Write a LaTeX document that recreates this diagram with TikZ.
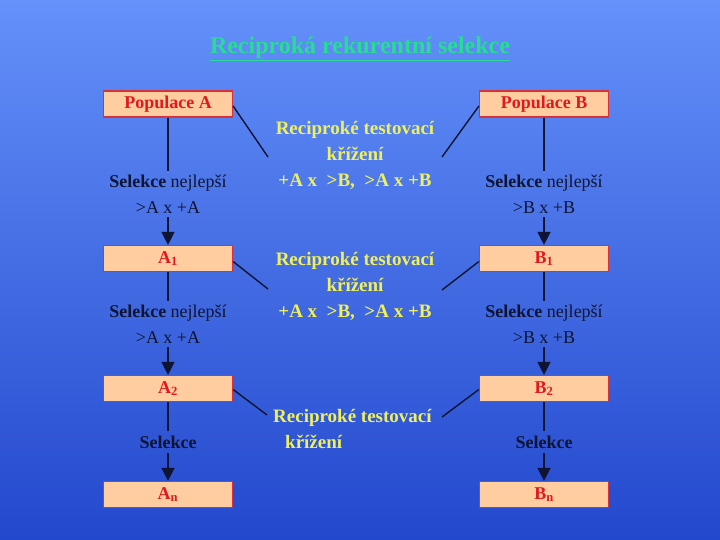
\documentclass[tikz,border=0pt]{standalone}
\usepackage{fontspec}
\setmainfont{Liberation Serif}
\usetikzlibrary{arrows.meta,positioning}
\definecolor{bgtop}{RGB}{100,145,250}
\definecolor{bgbot}{RGB}{35,72,205}
\definecolor{boxfill}{RGB}{255,205,160}
\definecolor{boxline}{RGB}{215,50,60}
\definecolor{boxtext}{RGB}{225,25,30}
\definecolor{crosstext}{RGB}{240,240,90}
\definecolor{seltext}{RGB}{15,20,50}
\definecolor{titletext}{RGB}{40,220,150}

\tikzset{
  popbox/.style={draw=boxline, fill=boxfill, line width=1.2pt, minimum width=129pt,
    minimum height=26pt, inner sep=0pt, font=\fontsize{18}{20}\selectfont\bfseries, text=boxtext},
  seltxt/.style={align=center, font=\fontsize{18}{26}\selectfont, text=seltext,
    inner xsep=0pt, inner ysep=4pt},
  crosstxt/.style={font=\fontsize{19}{26}\selectfont\bfseries, text=crosstext, inner sep=0pt},
  link/.style={line width=1.4pt, draw=seltext},
}

\begin{document}
\begin{tikzpicture}[x=1pt, y=-1pt, >={Triangle[length=13pt, width=13pt]}]
    % background
    \shade[top color=bgtop, bottom color=bgbot] (0,0) rectangle (720,540);
    \useasboundingbox (0,0) rectangle (720,540);

    % title
    \node[font=\fontsize{24}{26}\selectfont\bfseries, text=titletext] (title) at (360,49)
        {\underline{Reciproká rekurentní selekce}};

    % left column
    \node[popbox] (pA) at (168,104) {Populace A};
    \node[popbox] (a1) at (168,258.5) {A\textsubscript{1}};
    \node[popbox] (a2) at (168,388.5) {A\textsubscript{2}};
    \node[popbox] (an) at (168,494.5) {A\textsubscript{n}};
    \node[seltxt] (selA1) at (168,194) {\textbf{Selekce} nejlepší\\>A x +A};
    \node[seltxt] (selA2) at (168,324) {\textbf{Selekce} nejlepší\\>A x +A};
    \node[seltxt, font=\fontsize{18}{26}\selectfont\bfseries] (selA3) at (168,442) {Selekce};

    % right column
    \node[popbox] (pB) at (544,104) {Populace B};
    \node[popbox] (b1) at (544,258.5) {B\textsubscript{1}};
    \node[popbox] (b2) at (544,388.5) {B\textsubscript{2}};
    \node[popbox] (bn) at (544,494.5) {B\textsubscript{n}};
    \node[seltxt] (selB1) at (544,194) {\textbf{Selekce} nejlepší\\>B x +B};
    \node[seltxt] (selB2) at (544,324) {\textbf{Selekce} nejlepší\\>B x +B};
    \node[seltxt, font=\fontsize{18}{26}\selectfont\bfseries] (selB3) at (544,442) {Selekce};

    % crosses
    \node[crosstxt, align=center] (cross1) at (355,155)
        {Reciproké testovací\\křížení\\+A x~~>B,~~>A x +B};
    \node[crosstxt, align=center] (cross2) at (355,286)
        {Reciproké testovací\\křížení\\+A x~~>B,~~>A x +B};
    \node[crosstxt, align=left, anchor=west] (cross3) at (273,428.5)
        {Reciproké testovací\\\hspace*{12pt}křížení};

    \coordinate (c1l) at (268,157);
    \coordinate (c1r) at (442,157);
    \coordinate (c2l) at (268,289);
    \coordinate (c2r) at (442,290);
    \coordinate (c3l) at (267,415);
    \coordinate (c3r) at (442,417);

    % selection lines
    \foreach \from/\to in {pA/selA1, a1/selA2, a2/selA3, pB/selB1, b1/selB2, b2/selB3}
        \draw[link] (\from) -- (\to);
    \foreach \from/\to in {selA1/a1, selA2/a2, selA3/an, selB1/b1, selB2/b2, selB3/bn}
        \draw[link, ->] (\from) -- (\to);

    % crossing lines
    \draw[link] ([yshift=-2pt]pA.east) -- (c1l);
    \draw[link] ([yshift=-2pt]pB.west) -- (c1r);
    \draw[link] ([yshift=-3pt]a1.east) -- (c2l);
    \draw[link] ([yshift=-3pt]b1.west) -- (c2r);
    \draw[link] ([yshift=-1pt]a2.east) -- (c3l);
    \draw[link] ([yshift=-1pt]b2.west) -- (c3r);
\end{tikzpicture}
\end{document}
